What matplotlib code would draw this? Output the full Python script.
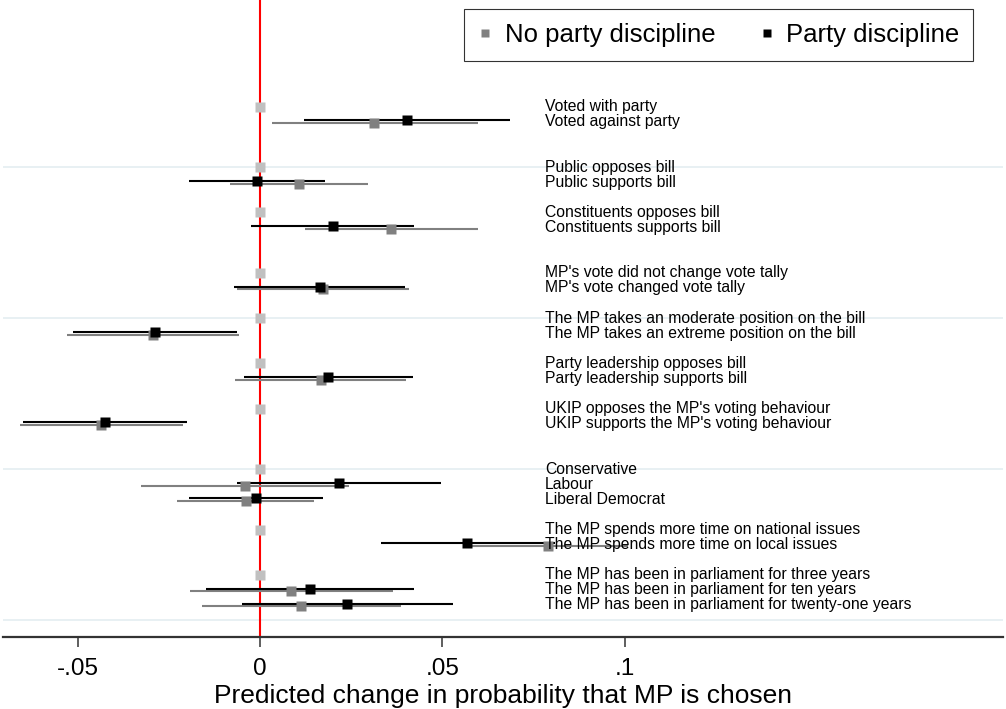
import numpy as np
import matplotlib
matplotlib.use("Agg")
import matplotlib.pyplot as plt
import matplotlib.transforms as mtransforms
from matplotlib.lines import Line2D

plt.rcParams['font.family'] = ['Liberation Sans', 'DejaVu Sans']

# attribute groups; the first level of each group is the baseline (0)
groups = [
    ["Voted with party", "Voted against party"],
    ["Public opposes bill", "Public supports bill"],
    ["Constituents opposes bill", "Constituents supports bill"],
    ["MP's vote did not change vote tally", "MP's vote changed vote tally"],
    ["The MP takes an moderate position on the bill",
     "The MP takes an extreme position on the bill"],
    ["Party leadership opposes bill", "Party leadership supports bill"],
    ["UKIP opposes the MP's voting behaviour",
     "UKIP supports the MP's voting behaviour"],
    ["Conservative", "Labour", "Liberal Democrat"],
    ["The MP spends more time on national issues",
     "The MP spends more time on local issues"],
    ["The MP has been in parliament for three years",
     "The MP has been in parliament for ten years",
     "The MP has been in parliament for twenty-one years"],
]
# blank rows in front of each group
gaps = [0, 2, 1, 2, 1, 1, 1, 2, 1, 1]

# estimates for the non-baseline levels, in order
nodisc = [0.0313, 0.0107, 0.0360, 0.0174, -0.0293, 0.0166, -0.0437,
          -0.0041, -0.0039, 0.0790, 0.0086, 0.0112]
nodisc_lo = [0.0032, -0.0082, 0.0124, -0.0062, -0.0530, -0.0068, -0.0658,
             -0.0327, -0.0227, 0.0581, -0.0191, -0.0160]
nodisc_hi = [0.0597, 0.0295, 0.0597, 0.0409, -0.0057, 0.0400, -0.0212,
             0.0244, 0.0148, 0.1010, 0.0364, 0.0386]

disc = [0.0402, -0.0008, 0.0199, 0.0165, -0.0288, 0.0187, -0.0425,
        0.0217, -0.0012, 0.0569, 0.0137, 0.0239]
disc_lo = [0.0121, -0.0195, -0.0024, -0.0071, -0.0512, -0.0044, -0.0649,
           -0.0062, -0.0195, 0.0332, -0.0148, -0.0049]
disc_hi = [0.0686, 0.0178, 0.0423, 0.0399, -0.0063, 0.0420, -0.0199,
           0.0496, 0.0172, 0.0809, 0.0422, 0.0529]

xticks = [-0.05, 0, 0.05, 0.1]
xticklabels = ["-.05", "0", ".05", ".1"]

GRAY = '#808080'
LIGHT = '#c0c0c0'


def main():
    # row positions
    labels, rows, base_rows, est_rows = [], [], [], []
    pos = 0
    for g, gap in zip(groups, gaps):
        pos += gap
        for i, lab in enumerate(g):
            labels.append(lab)
            rows.append(pos)
            if i == 0:
                base_rows.append(pos)
            else:
                est_rows.append(pos)
            pos += 1
    est_rows = np.array(est_rows, dtype=float)

    fig = plt.figure(figsize=(10.06, 7.09), dpi=100)
    ax = fig.add_axes([3/1006, (709-636.7)/709, 1000/1006, 636.7/709])

    for y in [4, 14, 24, 34]:
        ax.axhline(y, color='#e4eef1', lw=1.2, zorder=0)
    ax.axvline(0, color='red', lw=1.5, zorder=1)

    off = 0.09
    ax.hlines(est_rows + off, nodisc_lo, nodisc_hi, color=GRAY, lw=1.5, zorder=2)
    ax.hlines(est_rows - off, disc_lo, disc_hi, color='black', lw=1.5, zorder=2)
    ax.plot(np.zeros(len(base_rows)), base_rows, ls='none', marker='s',
            ms=7.6, color=LIGHT, mec='none', zorder=3)
    ax.plot(nodisc, est_rows + off, ls='none', marker='s', ms=7.6,
            color=GRAY, mec='none', zorder=3)
    ax.plot(disc, est_rows - off, ls='none', marker='s', ms=7.6,
            color='black', mec='none', zorder=4)

    trans = mtransforms.blended_transform_factory(ax.transAxes, ax.transData)
    for lab, y in zip(labels, rows):
        ax.text(0.542, y, lab, transform=trans, va='center', ha='left',
                fontsize=11.3, zorder=5)

    ax.set_xlim(-0.0705, 0.2038)
    ax.set_ylim(35.1, -7.07)
    ax.set_yticks([])
    ax.set_xticks(xticks)
    ax.set_xticklabels(xticklabels)
    ax.tick_params(axis='x', length=7, width=1.1, color='#333333',
                   labelsize=17.5, pad=8)
    ax.set_xlabel("Predicted change in probability that MP is chosen",
                  fontsize=19, labelpad=3)
    for s in ['top', 'left', 'right']:
        ax.spines[s].set_visible(False)
    ax.spines['bottom'].set_color('#333333')
    ax.spines['bottom'].set_linewidth(1.6)

    handles = [Line2D([], [], ls='none', marker='s', ms=5.5, color=GRAY,
                      mec='none', label='No party discipline'),
               Line2D([], [], ls='none', marker='s', ms=5.5, color='black',
                      mec='none', label='Party discipline')]
    leg = fig.legend(handles=handles, loc='upper right',
                     bbox_to_anchor=(973.3/1006, 1 - 9/709), ncol=2,
                     fontsize=18.5, frameon=True, fancybox=False,
                     edgecolor='black', handlelength=0.6, handletextpad=0.45,
                     columnspacing=1.7, borderpad=0.55, borderaxespad=0)
    leg.get_frame().set_linewidth(0.8)

    fig.savefig('out.png', dpi=100)


if __name__ == '__main__':
    main()
